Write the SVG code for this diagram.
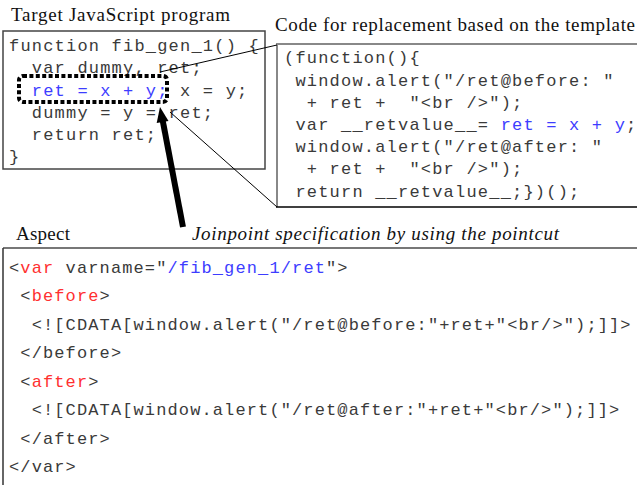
<svg xmlns="http://www.w3.org/2000/svg" width="637" height="485" viewBox="0 0 637 485">
<defs>
<style>
.title{font-family:"Liberation Serif","Times New Roman",serif;font-size:19px;fill:#111}
.ital{font-style:italic}
.code{font-family:"Liberation Mono","Courier New",monospace;font-size:17px;fill:#3a3a3a;letter-spacing:1.2px;white-space:pre}
.wide{letter-spacing:1.12px}
.kw{fill:#3d3dff}
.tag{fill:#ff3030}
.frame{fill:none;stroke:#444;stroke-width:1.5}
.soft{fill:none;stroke:#888;stroke-width:2}
.link{stroke:#000;stroke-width:1;fill:none}
</style>
</defs>
<rect width="637" height="485" fill="#fff"/>

<!-- source program -->
<g id="target-program">
<text class="title" x="11" y="21" textLength="219" lengthAdjust="spacing">Target JavaScript program</text>
<rect class="frame" x="3" y="31" width="262" height="138"/>
<text class="code" x="9" y="51">function fib_gen_1() {</text>
<text class="code" x="9" y="73.3">  var dummy, ret;</text>
<text class="code" x="9" y="95.5">  <tspan class="kw">ret = x + y;</tspan> x = y;</text>
<text class="code" x="9" y="117.7">  dummy = y = ret;</text>
<text class="code" x="9" y="139.9">  return ret;</text>
<text class="code" x="9" y="162">}</text>
</g>

<!-- highlighted joinpoint -->
<g id="joinpoint">
<rect x="19" y="76" width="148" height="26" rx="4" fill="none" stroke="#000" stroke-width="4" stroke-dasharray="4 2.4"/>
</g>

<!-- generated replacement -->
<g id="replacement-code">
<text class="title" x="275" y="31" textLength="360" lengthAdjust="spacing">Code for replacement based on the template</text>
<path class="soft" d="M637 44 H277 V207"/>
<line x1="276" y1="207" x2="637" y2="207" stroke="#000" stroke-width="1.5"/>
<text class="code" x="284" y="63.3">(function(){</text>
<text class="code" x="284" y="85.5"> window.alert("/ret@before: "</text>
<text class="code" x="284" y="107.7">  + ret +  "&lt;br /&gt;");</text>
<text class="code" x="284" y="129.9"> var __retvalue__= <tspan class="kw">ret = x + y</tspan>;</text>
<text class="code" x="284" y="152.1"> window.alert("/ret@after: "</text>
<text class="code" x="284" y="174.3">  + ret +  "&lt;br /&gt;");</text>
<text class="code" x="284" y="196.5"> return __retvalue__;})();</text>
</g>

<!-- aspect definition -->
<g id="aspect">
<text class="title" x="16" y="240" textLength="54" lengthAdjust="spacing">Aspect</text>
<text class="title ital" x="192" y="240" textLength="367" lengthAdjust="spacing">Joinpoint specification by using the pointcut</text>
<line x1="3" y1="248" x2="637" y2="248" stroke="#777" stroke-width="2"/>
<line x1="3" y1="248" x2="3" y2="485" stroke="#333" stroke-width="1.5"/>
<text class="code wide" x="9" y="273">&lt;<tspan class="tag">var</tspan> varname="<tspan class="kw">/fib_gen_1/ret</tspan>"&gt;</text>
<text class="code wide" x="9" y="301.4"> &lt;<tspan class="tag">before</tspan>&gt;</text>
<text class="code wide" x="9" y="329.9">  &lt;![CDATA[window.alert("/ret@before:"+ret+"&lt;br/&gt;");]]&gt;</text>
<text class="code wide" x="9" y="358.3"> &lt;/before&gt;</text>
<text class="code wide" x="9" y="386.7"> &lt;<tspan class="tag">after</tspan>&gt;</text>
<text class="code wide" x="9" y="415.1">  &lt;![CDATA[window.alert("/ret@after:"+ret+"&lt;br/&gt;");]]&gt;</text>
<text class="code wide" x="9" y="443.6"> &lt;/after&gt;</text>
<text class="code wide" x="9" y="472">&lt;/var&gt;</text>
</g>

<!-- connectors -->
<g id="connectors">
<line class="link" x1="160" y1="72" x2="277" y2="45"/>
<line class="link" x1="170" y1="112" x2="277" y2="207"/>
<line x1="183" y1="227" x2="162.6" y2="120" stroke="#000" stroke-width="6"/>
<polygon points="160,107 168.5,121 156.7,123" fill="#000"/>
</g>
</svg>
